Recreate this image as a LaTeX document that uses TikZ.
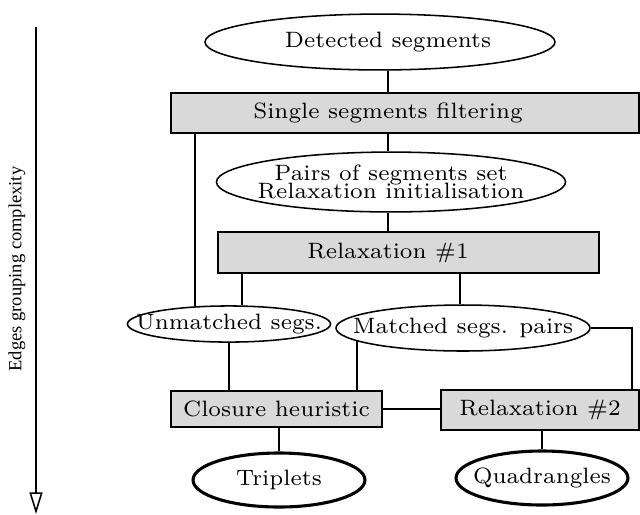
\documentclass[tikz,border=0pt]{standalone}
\usepackage{fontspec}
\newfontfamily\axisfont{Liberation Serif}
\usetikzlibrary{shapes.geometric,arrows.meta,positioning}

\begin{document}
\begin{tikzpicture}[x=0.324pt,y=-0.324pt,line width=0.5pt,
    stage/.style={draw,fill=black!15,font=\fontsize{7.2}{8}\selectfont,inner sep=0pt},
    blob/.style={ellipse,draw,fill=white,font=\fontsize{7.2}{8}\selectfont,align=center,inner xsep=-40pt,inner ysep=0pt},
    sink/.style={blob,line width=1pt},
    caption/.style={font=\fontsize{7.2}{8}\selectfont,inner sep=0pt}]
    \useasboundingbox (0,0) rectangle (640,514);
    % complexity axis
    \coordinate (axtop) at (36,27);
    \coordinate (axbot) at (36,514);
    \draw[-{Triangle[open,length=7pt,width=4.2pt]}] (axtop) -- (axbot);
    \node[rotate=90,font=\axisfont\fontsize{6}{7}\selectfont] (axis) at (17,269) {Edges grouping complexity};
    % rails
    \coordinate (spine) at (388,0);
    \coordinate (railA) at (195,0);
    \coordinate (railB) at (242,0);
    \coordinate (railC) at (460,0);
    \coordinate (railE) at (357,0);
    \coordinate (railF) at (632,0);
    % single segments
    \node[blob,minimum width=113.4pt,minimum height=18.1pt] (det) at (380,42) {};
    \node[caption] (dettext) at (det.center -| spine) {Detected segments};
    \node[stage,minimum width=151.6pt,minimum height=13pt] (filt) at (405,113) {};
    \node[caption] (filttext) at (filt.center -| spine) {Single segments filtering};
    % pairs
    \node[blob,minimum width=113.1pt,minimum height=19.4pt] (pairs) at (391,182) {Pairs of segments set\\[-2pt]Relaxation initialisation};
    \node[stage,minimum width=123.4pt,minimum height=13.3pt] (relA) at (408.5,252.5) {};
    \node[caption] (relAtext) at (relA.center -| spine) {Relaxation \#1};
    \node[blob,minimum width=65.8pt,minimum height=11.7pt] (unm) at (229,324) {Unmatched segs.};
    \node[blob,minimum width=82.3pt,minimum height=14.9pt] (mat) at (463,328) {Matched segs. pairs};
    % triplets and quadrangles
    \node[stage,minimum width=68.4pt,minimum height=11.7pt] (clos) at (276.5,409) {Closure heuristic};
    \node[stage,minimum width=64.2pt,minimum height=13pt] (relB) at (540,410) {Relaxation \#2};
    \node[sink,minimum width=55.7pt,minimum height=17.5pt] (trip) at (279,480) {Triplets};
    \node[sink,minimum width=55.7pt,minimum height=17.5pt] (quad) at (542,478) {Quadrangles};
    % connectors
    \draw (det.south -| spine) -- (filt.north -| spine);
    \draw (filt.south -| spine) -- (pairs.north -| spine);
    \draw (pairs.south -| spine) -- (relA.north -| spine);
    \draw (filt.south -| railA) -- (unm.153 -| railA);
    \draw (relA.south -| railB) -- (unm.54 -| railB);
    \draw (relA.south -| railC) -- (mat.north -| railC);
    \draw (unm.south) -- (unm.south |- clos.north);
    \draw (mat.187 -| railE) -- (clos.north -| railE);
    \draw (mat.east) -| (relB.north -| railF);
    \draw (clos.east) -- (clos.east -| relB.west);
    \draw (trip.north |- clos.south) -- (trip.north);
    \draw (quad.north |- relB.south) -- (quad.north);
\end{tikzpicture}
\end{document}
